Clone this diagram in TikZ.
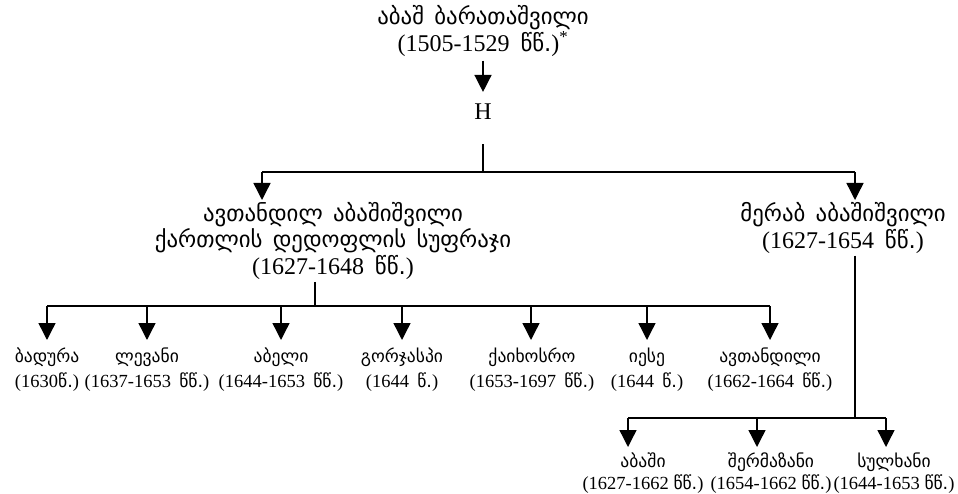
\documentclass[tikz,border=0pt]{standalone}
\usepackage{fontspec}
\setmainfont{Liberation Serif}
\newfontfamily\ka{DejaVu Sans}[Scale=0.95]
\usetikzlibrary{arrows.meta}
\tikzset{
  big/.style={font=\fontsize{24}{26.5}\selectfont, align=center, inner sep=0pt},
  kid/.style={font=\fontsize{18.5}{25}\selectfont, align=center, inner sep=0pt},
  kidb/.style={font=\fontsize{18.5}{22}\selectfont, align=center, inner sep=0pt},
  conn/.style={line width=1.4pt},
  arr/.style={conn, -{Triangle[width=17pt,length=17pt]}},
}
\newcommand{\ws}{\hspace{0.45em}}
\begin{document}
\begin{tikzpicture}[x=1pt,y=-1pt]
\useasboundingbox (0,0) rectangle (958,494);
% main nodes
\node[big] (top) at (483,31) {{\ka აბაშ\ws ბარათაშვილი}\\(1505-1529\ws{\ka წწ.})\textsuperscript{*}};
\node[big] (H) at (483,112) {H};
\node[big] (avt) at (333,241) {{\ka ავთანდილ\ws აბაშიშვილი}\\{\ka ქართლის\ws დედოფლის\ws სუფრაჯი}\\(1627-1648\ws{\ka წწ.})};
\node[big] (mer) at (843,228) {{\ka მერაბ\ws აბაშიშვილი}\\(1627-1654\ws{\ka წწ.})};
% children of avtandil
\node[kid] (c1) at (47,370) {{\ka ბადურა}\\(1630{\ka წ.})};
\node[kid] (c2) at (147,370) {{\ka ლევანი}\\(1637-1653\ws{\ka წწ.})};
\node[kid] (c3) at (281,370) {{\ka აბელი}\\(1644-1653\ws{\ka წწ.})};
\node[kid] (c4) at (402,370) {{\ka გორჯასპი}\\(1644\ws{\ka წ.})};
\node[kid] (c5) at (532,370) {{\ka ქაიხოსრო}\\(1653-1697\ws{\ka წწ.})};
\node[kid] (c6) at (647,370) {{\ka იესე}\\(1644\ws{\ka წ.})};
\node[kid] (c7) at (770,370) {{\ka ავთანდილი}\\(1662-1664\ws{\ka წწ.})};
% children of merab
\node[kidb] (g1) at (643,473) {{\ka აბაში}\\(1627-1662 {\ka წწ.})};
\node[kidb] (g2) at (771,473) {{\ka შერმაზანი}\\(1654-1662 {\ka წწ.})};
\node[kidb] (g3) at (894,473) {{\ka სულხანი}\\(1644-1653 {\ka წწ.})};
% junction coordinates
\coordinate (j1) at (483,172);
\coordinate (jL) at (262,172);
\coordinate (jR) at (855,172);
\coordinate (aL) at (315,306);
\coordinate (b1) at (47,306);
\coordinate (b7) at (770,306);
\coordinate (mL) at (855,418);
\coordinate (m1) at (628,418);
\coordinate (m3) at (886,418);
% connectors
\draw[arr, shorten <=4pt, shorten >=12pt] (top.south) -- (H.north);
\draw[conn, shorten <=24pt] (H.south) -- (j1);
\draw[conn] (jL) -- (jR);
\draw[arr] (jL) -- (262,200);
\draw[arr] (jR) -- (855,200);
\draw[conn, shorten <=2pt] (aL |- avt.south) -- (aL);
\draw[conn] (b1) -- (b7);
\foreach \c/\x in {c1/47,c2/147,c3/281,c4/402,c5/531,c6/647,c7/770}
  \draw[arr] (\x,306) -- (\x,340);
\draw[conn, shorten <=2pt] (mL |- mer.south) -- (mL);
\draw[conn] (m1) -- (m3);
\foreach \x in {628,757,886}
  \draw[arr] (\x,418) -- (\x,447);
\end{tikzpicture}
\end{document}
